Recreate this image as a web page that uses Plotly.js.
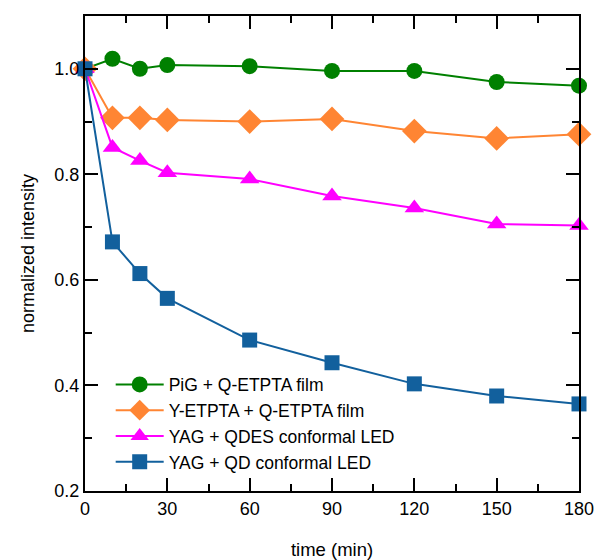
<!DOCTYPE html>
<html>
<head>
<meta charset="utf-8">
<script src="https://cdn.plot.ly/plotly-3.0.1.min.js"></script>
<style>html,body{margin:0;padding:0;background:#fff;}</style>
</head>
<body>
<div id="chart" style="width:595px;height:560px;"></div>
<script>
const time = [0, 10, 20, 30, 60, 90, 120, 150, 180];
const seriesNames = ["PiG + Q-ETPTA film", "Y-ETPTA + Q-ETPTA film", "YAG + QDES conformal LED", "YAG + QD conformal LED"];
const pigQEtpta = [1.0, 1.019, 1.0, 1.007, 1.005, 0.996, 0.996, 0.975, 0.968];
const yEtptaQEtpta = [1.0, 0.907, 0.907, 0.903, 0.900, 0.905, 0.882, 0.868, 0.876];
const yagQdes = [1.0, 0.851, 0.826, 0.803, 0.791, 0.759, 0.736, 0.706, 0.703];
const yagQd = [1.0, 0.672, 0.612, 0.565, 0.486, 0.443, 0.403, 0.380, 0.365];
const xTicks = [0, 30, 60, 90, 120, 150, 180];
const yTicks = [0.2, 0.4, 0.6, 0.8, 1.0];

const colors = ["#008000", "#ff8533", "#ff00ff", "#12609d"];
const symbols = ["circle", "diamond", "triangle-up", "square"];
const sizes = [16, 19, 17, 15];
const values = [pigQEtpta, yEtptaQEtpta, yagQdes, yagQd];

const traces = values.map((v, i) => ({
  x: time, y: v, name: seriesNames[i], type: "scatter", mode: "lines+markers",
  line: {color: colors[i], width: 2},
  marker: {color: colors[i], symbol: symbols[i], size: sizes[i], line: {width: 0}},
  cliponaxis: false
}));

const axisCommon = {
  showline: true, linecolor: "black", linewidth: 2, mirror: "ticks",
  ticks: "inside", ticklen: 13, tickwidth: 2, tickcolor: "black",
  showgrid: false, zeroline: false,
  tickfont: {family: "Liberation Sans, Arial, sans-serif", size: 18, color: "black"}
};

const layout = {
  width: 595, height: 560,
  margin: {l: 85, r: 16, t: 16, b: 69},
  paper_bgcolor: "#fff", plot_bgcolor: "#fff",
  font: {family: "Liberation Sans, Arial, sans-serif", color: "black"},
  showlegend: true,
  legend: {x: 0.052, y: 0.262, xanchor: "left", yanchor: "top", bgcolor: "rgba(0,0,0,0)",
    font: {size: 17.5, color: "black"}, itemwidth: 48},
  xaxis: Object.assign({}, axisCommon, {
    range: [0, 180], tickvals: xTicks, ticktext: xTicks.map(String),
    minor: {dtick: 15, tick0: 0, ticks: "inside", ticklen: 7, tickwidth: 2, tickcolor: "black", showgrid: false},
    title: {text: "time (min)", font: {size: 18.5, color: "black"}, standoff: 26}
  }),
  yaxis: Object.assign({}, axisCommon, {
    range: [0.2, 1.1], tickvals: yTicks, ticktext: yTicks.map(v => v.toFixed(1)),
    minor: {dtick: 0.1, tick0: 0.2, ticks: "inside", ticklen: 7, tickwidth: 2, tickcolor: "black", showgrid: false},
    title: {text: "normalized intensity", font: {size: 18, color: "black"}, standoff: 15}
  })
};

Plotly.newPlot("chart", traces, layout, {displayModeBar: false, staticPlot: true});
</script>
</body>
</html>
